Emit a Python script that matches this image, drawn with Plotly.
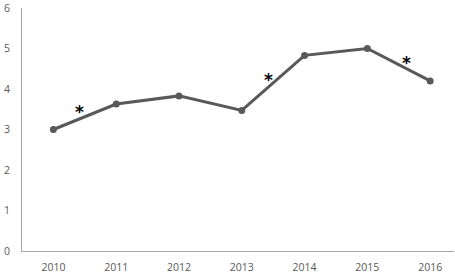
import plotly.graph_objects as go

years = ["2010", "2011", "2012", "2013", "2014", "2015", "2016"]
values = [3.0, 3.63, 3.83, 3.47, 4.83, 5.0, 4.2]
y_ticks = [0, 1, 2, 3, 4, 5, 6]
star_x = [0.42, 3.42, 5.63]
star_y = [3.54, 4.31, 4.73]

fig = go.Figure()
fig.add_trace(go.Scatter(
    x=list(range(len(years))), y=values, mode="lines+markers",
    line=dict(color="#595959", width=3),
    marker=dict(color="#595959", size=7),
    showlegend=False, hoverinfo="skip",
))

for sx, sy in zip(star_x, star_y):
    fig.add_annotation(x=sx, y=sy, text="<b>*</b>", showarrow=False,
                       font=dict(size=17, color="#000000", family="DejaVu Sans"),
                       xanchor="center", yanchor="middle", yshift=-4)

tick_font = dict(family="Open Sans, Liberation Sans, sans-serif", size=10.5, color="#595959")

fig.update_layout(
    width=455, height=275,
    margin=dict(l=22, r=1, t=8, b=24, autoexpand=False),
    paper_bgcolor="white", plot_bgcolor="white",
    xaxis=dict(
        range=[-0.5, 6.38], tickvals=list(range(len(years))), ticktext=years,
        showgrid=False, zeroline=False, showline=True, linecolor="#a6a6a6", linewidth=1,
        ticks="", tickfont=tick_font, ticklabelstandoff=6,
    ),
    yaxis=dict(
        range=[0, 6], tickvals=y_ticks, showgrid=False, zeroline=False,
        showline=True, linecolor="#a6a6a6", linewidth=1,
        ticks="", tickfont=tick_font, ticklabelstandoff=9,
    ),
)

fig.write_html("out.html")
